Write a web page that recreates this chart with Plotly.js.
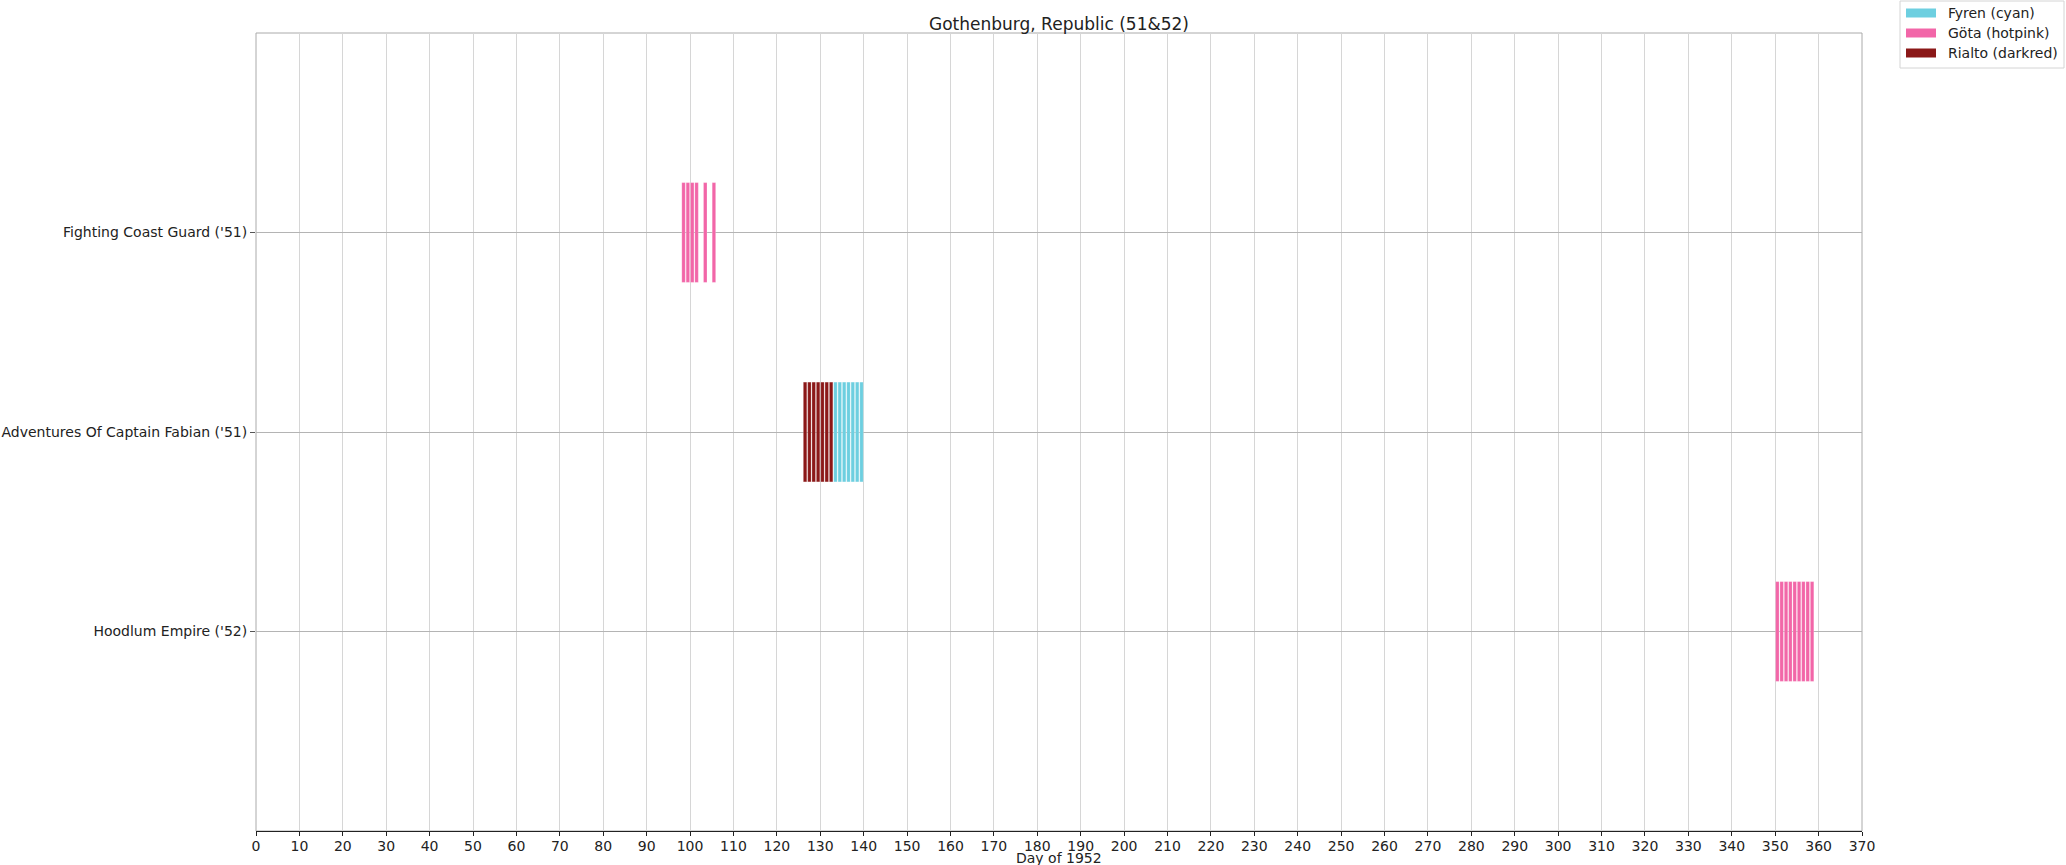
<!DOCTYPE html>
<html>
<head>
<meta charset="utf-8">
<script src="https://cdn.plot.ly/plotly-3.0.1.min.js"></script>
<style>
  html, body { margin: 0; padding: 0; background: #fff; }
</style>
</head>
<body>
<div id="chart" style="width:2066px; height:865px;"></div>
<script>
  // films, top to bottom
  var films = ["Fighting Coast Guard ('51)", "Adventures Of Captain Fabian ('51)", "Hoodlum Empire ('52)"];

  // cinemas, in legend order
  var cinemas = ["Fyren (cyan)", "Göta (hotpink)", "Rialto (darkred)"];

  // screening days per cinema (day of 1952)
  var fyrenDays = [133, 134, 135, 136, 137, 138, 139];
  var fyrenFilms = [films[1], films[1], films[1], films[1], films[1], films[1], films[1]];

  var gotaDays = [98, 99, 100, 101, 103, 105, 350, 351, 352, 353, 354, 355, 356, 357, 358];
  var gotaFilms = [films[0], films[0], films[0], films[0], films[0], films[0],
                   films[2], films[2], films[2], films[2], films[2], films[2], films[2], films[2], films[2]];

  var rialtoDays = [126, 127, 128, 129, 130, 131, 132];
  var rialtoFilms = [films[1], films[1], films[1], films[1], films[1], films[1], films[1]];

  var xTicks = [];
  for (var t = 0; t <= 370; t += 10) xTicks.push(t);

  var colors = { "Fyren (cyan)": "#6dcfe0", "Göta (hotpink)": "#f266a8", "Rialto (darkred)": "#8b1818" };

  // plot area in pixels
  var W = 2066, H = 865, L = 256, R = 1862, T = 33, B = 831;
  function px2x(px) { return (px - L) / (R - L); }
  function px2y(py) { return (B - py) / (B - T); }

  function dayTrace(name, days, rows) {
    return {
      type: "bar",
      orientation: "h",
      name: name,
      y: rows,
      base: days.map(function (d) { return d + 0.1; }),
      x: days.map(function () { return 0.8; }),
      width: 0.5,
      marker: { color: colors[name], line: { color: "rgba(255,255,255,0.35)", width: 0.6 } },
      showlegend: false,
      hoverinfo: "skip"
    };
  }

  var traces = [
    dayTrace(cinemas[0], fyrenDays, fyrenFilms),
    dayTrace(cinemas[1], gotaDays, gotaFilms),
    dayTrace(cinemas[2], rialtoDays, rialtoFilms)
  ];

  // hand-made legend, matplotlib style
  var shapes = [{
    type: "rect", xref: "paper", yref: "paper",
    x0: 0, x1: 1, y0: 0, y1: 1,
    line: { color: "#aaaaaa", width: 1 },
    layer: "below"
  }, {
    type: "rect", xref: "paper", yref: "paper",
    x0: px2x(1900), x1: px2x(2064), y0: px2y(1), y1: px2y(68),
    line: { color: "#d4d4d4", width: 1 },
    fillcolor: "rgba(255,255,255,0.8)"
  }];
  var annotations = [{
    text: "Day of 1952",
    xref: "paper", yref: "paper",
    x: 0.5, y: px2y(857.5), xanchor: "center", yanchor: "middle",
    height: 14,
    showarrow: false,
    font: { size: 14, color: "#222" }
  }];
  cinemas.forEach(function (name, i) {
    var cy = 13 + 20 * i;
    shapes.push({
      type: "rect", xref: "paper", yref: "paper",
      x0: px2x(1906), x1: px2x(1936), y0: px2y(cy - 4.5), y1: px2y(cy + 4.5),
      line: { width: 0 }, fillcolor: colors[name]
    });
    annotations.push({
      text: name, xref: "paper", yref: "paper",
      x: px2x(1946), y: px2y(cy), xanchor: "left", yanchor: "middle",
      showarrow: false, font: { size: 14, color: "#222" }
    });
  });

  var layout = {
    width: W,
    height: H,
    margin: { l: L, r: W - R, t: T, b: H - B, autoexpand: false },
    paper_bgcolor: "#fff",
    plot_bgcolor: "#fff",
    font: { family: "DejaVu Sans, sans-serif", size: 14, color: "#222" },
    barmode: "overlay",
    showlegend: false,
    title: {
      text: "Gothenburg, Republic (51&52)",
      font: { size: 17, color: "#222" },
      x: 0.5, xref: "paper", xanchor: "center",
      y: 1, yref: "paper", yanchor: "bottom", pad: { b: 3 }
    },
    xaxis: {
      range: [0, 370],
      tickvals: xTicks,
      ticks: "outside", ticklen: 4, tickcolor: "#222",
      ticklabelstandoff: -2,
      showline: true, linecolor: "#222", linewidth: 1,
      showgrid: true, gridcolor: "#d6d6d6", gridwidth: 1,
      zeroline: false,
      automargin: false
    },
    yaxis: {
      type: "category",
      categoryarray: films,
      categoryorder: "array",
      range: [3, -1],
      ticks: "outside", ticklen: 5, tickcolor: "#555",
      showline: false,
      showgrid: true, gridcolor: "#b4b4b4", gridwidth: 1,
      zeroline: false,
      automargin: false
    },
    annotations: annotations,
    shapes: shapes
  };

  Plotly.newPlot("chart", traces, layout, { staticPlot: true });
</script>
</body>
</html>
